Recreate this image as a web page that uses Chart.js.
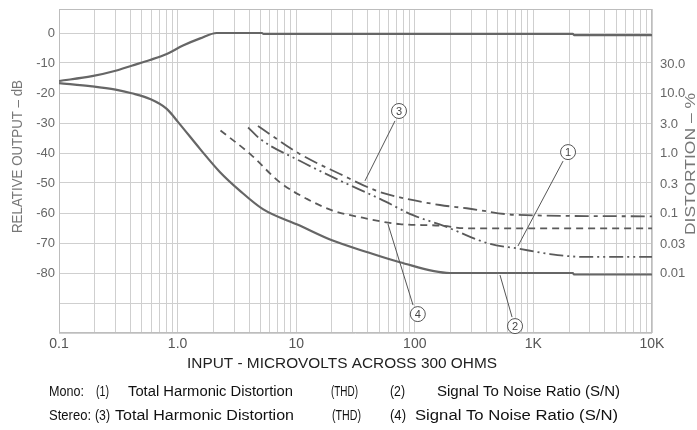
<!DOCTYPE html>
<html>
<head>
<meta charset="utf-8">
<script src="https://cdn.jsdelivr.net/npm/chart.js@4/dist/chart.umd.min.js"></script>
<style>
html,body{margin:0;padding:0;background:#fff;overflow:hidden}
canvas{display:block}
</style>
</head>
<body>
<canvas id="c" width="697" height="430"></canvas>
<script>
// ---------------- DATA ----------------
// x: input in microvolts (log axis), y: relative output in dB
const outputX  = [0.1, 0.19, 0.3, 0.41, 0.585, 0.81, 1.11, 1.55, 2.14, 5.15, 5.3, 2150, 2200, 10000];
const outputDb = [-16.0, -14.4, -12.6, -10.9, -9.0, -7.0, -4.2, -1.8, 0, 0, -0.3, -0.3, -0.7, -0.7];

// (2) Mono S/N, dB
const snMonoX  = [0.1, 0.19, 0.3, 0.41, 0.585, 0.81, 1.01, 1.55, 2.27, 3.36, 5.24, 10.7, 20.3, 39.3, 74.8, 197, 2150, 2200, 10000];
const snMonoDb = [-16.7, -17.8, -18.9, -20.1, -22.0, -25.3, -29.7, -38.7, -46.3, -52.6, -58.7, -64.2, -69.2, -73.0, -76.4, -80.0, -80.0, -80.5, -80.5];

// (4) Stereo S/N, dB
const snStereoX  = [2.3, 4.08, 7.3, 12.3, 20.4, 34.5, 74.8, 163, 274, 10000];
const snStereoDb = [-32.5, -40.3, -49.8, -55.3, -59.2, -61.4, -63.7, -64.2, -65.1, -65.1];

// (3) Stereo THD, percent (right axis)
const thdStereoX   = [4.76, 10.7, 23.4, 47.7, 74.8, 163, 274, 722, 10000];
const thdStereoPct = [2.82, 0.966, 0.447, 0.234, 0.182, 0.136, 0.120, 0.093, 0.088];

// (1) Mono THD, percent (right axis)
const thdMonoX   = [3.93, 4.95, 10.7, 23.4, 50.9, 96.6, 173, 431, 728, 1380, 2620, 10000];
const thdMonoPct = [2.66, 1.72, 0.741, 0.347, 0.172, 0.092, 0.0617, 0.0305, 0.0257, 0.0207, 0.0186, 0.0186];

// axis ranges and tick labels
const xMin = 0.1, xMax = 10000;
const xLabelValues = [0.1, 1, 10, 100, 1000, 10000];
const xLabelTexts  = ['0.1', '1.0', '10', '100', '1K', '10K'];
const dbMin = -100, dbMax = 8;
const dbLabelValues = [0, -10, -20, -30, -40, -50, -60, -70, -80];
const dbGridValues  = [-100, -90, -80, -70, -60, -50, -40, -30, -20, -10, 0];
const pctTickValues = [30, 10, 3, 1, 0.3, 0.1, 0.03, 0.01];
const pctTickTexts  = ['30.0', '10.0', '3.0', '1.0', '0.3', '0.1', '0.03', '0.01'];

// call-out labels: circle anchor and leader line, in data units (x: µV, y: dB)
const calloutText = ['3', '1', '4', '2'];
const calloutCx   = [73.6, 1959, 106, 700];
const calloutCy   = [-26, -39.7, -93.7, -97.7];
const leaderX1    = [68.1, 1778, 96.6, 661];
const leaderY1    = [-29.3, -42.7, -90.7, -94.7];
const leaderX2    = [38.0, 741, 59.4, 523];
const leaderY2    = [-49.3, -71.0, -63.7, -80.7];

// ---------------- chart ----------------
const pts = (xs, ys) => xs.map((x, i) => ({x: x, y: ys[i]}));
const pctMin = 100 * Math.pow(10, dbMin / 20);
const pctMax = 100 * Math.pow(10, dbMax / 20);

const xGrid = [];
for (let e = -1; e <= 3; e++) for (let m = 1; m <= 9; m++) xGrid.push(+(m * Math.pow(10, e)).toPrecision(6));
xGrid.push(10000);

const FONT = "'Liberation Sans', Arial, Helvetica, sans-serif";
const GRID = '#cfcfcf';
const LINE = '#666666';
const DASHC = '#5a5a5a';

function fitText(ctx, t, x0, x1, y) {
  const w = ctx.measureText(t).width;
  ctx.save(); ctx.translate(x0, y); ctx.scale((x1 - x0) / w, 1);
  ctx.fillText(t, 0, 0); ctx.restore();
}
function noPad(s) { s.paddingTop = 0; s.paddingBottom = 0; s.paddingLeft = 0; s.paddingRight = 0; }

const decor = {
  id: 'decor',
  beforeDatasetsDraw(chart) {
    const {ctx, chartArea: a} = chart;
    ctx.save();
    ctx.strokeStyle = '#bdbdbd';
    ctx.lineWidth = 1;
    ctx.strokeRect(a.left + 0.5, a.top + 0.5, a.right - a.left - 1, a.bottom - a.top - 1);
    ctx.restore();
  },
  afterDraw(chart) {
    const {ctx} = chart;
    const xs = chart.scales.x, ys = chart.scales.y;
    ctx.save();
    // call-outs
    ctx.strokeStyle = '#555';
    ctx.lineWidth = 1;
    for (let i = 0; i < calloutText.length; i++) {
      const x1 = xs.getPixelForValue(leaderX1[i]), y1 = ys.getPixelForValue(leaderY1[i]);
      const x2 = xs.getPixelForValue(leaderX2[i]), y2 = ys.getPixelForValue(leaderY2[i]);
      ctx.beginPath(); ctx.moveTo(x1, y1); ctx.lineTo(x2, y2); ctx.stroke();
      const cx = xs.getPixelForValue(calloutCx[i]), cy = ys.getPixelForValue(calloutCy[i]);
      ctx.beginPath(); ctx.arc(cx, cy, 7.5, 0, Math.PI * 2);
      ctx.fillStyle = '#fff'; ctx.fill(); ctx.stroke();
      ctx.fillStyle = '#444';
      ctx.font = '11px ' + FONT;
      ctx.textAlign = 'center'; ctx.textBaseline = 'middle';
      ctx.fillText(calloutText[i], cx, cy + 0.5);
    }
    // axis titles (rotated, reading bottom to top)
    ctx.fillStyle = '#777';
    ctx.font = '14px ' + FONT;
    ctx.textAlign = 'left'; ctx.textBaseline = 'middle';
    ctx.save(); ctx.translate(18, 0); ctx.rotate(-Math.PI / 2);
    fitText(ctx, 'RELATIVE OUTPUT \u2013 dB', -233, -80, 0); ctx.restore();
    ctx.save(); ctx.translate(691, 0); ctx.rotate(-Math.PI / 2);
    fitText(ctx, 'DISTORTION \u2013 %', -235, -93, 0); ctx.restore();
    // x title
    ctx.fillStyle = '#222';
    ctx.font = '14px ' + FONT;
    fitText(ctx, 'INPUT - MICROVOLTS ACROSS 300 OHMS', 187, 497, 364);
    // legend lines
    const rows = [
      {y: 392, items: [['Mono:', 49, 84], ['(1)', 96, 109], ['Total Harmonic Distortion', 128, 293], ['(THD)', 331, 358], ['(2)', 390, 405], ['Signal To Noise Ratio (S/N)', 437, 620]]},
      {y: 416, items: [['Stereo:', 49, 91], ['(3)', 95, 110], ['Total Harmonic Distortion', 115, 294], ['(THD)', 332, 361], ['(4)', 390, 406], ['Signal To Noise Ratio (S/N)', 415, 618]]}
    ];
    ctx.fillStyle = '#111';
    ctx.font = '14px ' + FONT;
    rows.forEach(r => r.items.forEach(([t, x0, x1]) => fitText(ctx, t, x0, x1, r.y)));
    ctx.restore();
  }
};

new Chart(document.getElementById('c'), {
  type: 'line',
  data: {
    datasets: [
      {data: pts(outputX, outputDb), yAxisID: 'y', borderColor: LINE, borderWidth: 2.2, cubicInterpolationMode: 'monotone'},
      {data: pts(snMonoX, snMonoDb), yAxisID: 'y', borderColor: LINE, borderWidth: 2.2, cubicInterpolationMode: 'monotone'},
      {data: pts(snStereoX, snStereoDb), yAxisID: 'y', borderColor: DASHC, borderWidth: 1.8, borderDash: [7, 5], cubicInterpolationMode: 'monotone'},
      {data: pts(thdStereoX, thdStereoPct), yAxisID: 'y2', borderColor: DASHC, borderWidth: 1.8, borderDash: [14, 5, 4, 5], cubicInterpolationMode: 'monotone'},
      {data: pts(thdMonoX, thdMonoPct), yAxisID: 'y2', borderColor: DASHC, borderWidth: 1.8, borderDash: [14, 4, 2, 4, 2, 4], cubicInterpolationMode: 'monotone'}
    ]
  },
  options: {
    responsive: false,
    animation: false,
    devicePixelRatio: 1,
    layout: {padding: {top: 9, left: 0, right: 0, bottom: 0}},
    elements: {point: {radius: 0}, line: {fill: false}},
    plugins: {legend: {display: false}, tooltip: {enabled: false}},
    scales: {
      x: {
        type: 'logarithmic', position: 'bottom', min: xMin, max: xMax,
        afterBuildTicks: s => { s.ticks = xGrid.map(v => ({value: v})); },
        afterFit: s => { s.height = 97; noPad(s); },
        grid: {color: GRID, lineWidth: 1, drawTicks: false},
        border: {display: false},
        ticks: {
          autoSkip: false, maxRotation: 0, padding: 3, color: '#555',
          font: {family: FONT, size: 14},
          callback: v => { const i = xLabelValues.findIndex(d => Math.abs(d - v) < 1e-9 * Math.max(1, d)); return i >= 0 ? xLabelTexts[i] : ''; }
        }
      },
      y: {
        type: 'linear', position: 'left', min: dbMin, max: dbMax,
        afterBuildTicks: s => { s.ticks = dbGridValues.map(v => ({value: v})); },
        afterFit: s => { s.width = 59; noPad(s); },
        grid: {color: GRID, lineWidth: 1, drawTicks: false},
        border: {display: false},
        ticks: {
          padding: 4, color: '#666', font: {family: FONT, size: 13},
          callback: v => dbLabelValues.includes(v) ? String(v) : ''
        }
      },
      y2: {
        type: 'logarithmic', position: 'right', min: pctMin, max: pctMax,
        afterBuildTicks: s => { s.ticks = pctTickValues.map(v => ({value: v})); },
        afterFit: s => { s.width = 45; noPad(s); },
        grid: {display: false, drawTicks: false},
        border: {display: false},
        ticks: {
          padding: 8, color: '#666', font: {family: FONT, size: 13},
          callback: v => { const i = pctTickValues.findIndex(d => Math.abs(d - v) < 1e-9); return i >= 0 ? pctTickTexts[i] : ''; }
        }
      }
    }
  },
  plugins: [decor]
});
</script>
</body>
</html>
